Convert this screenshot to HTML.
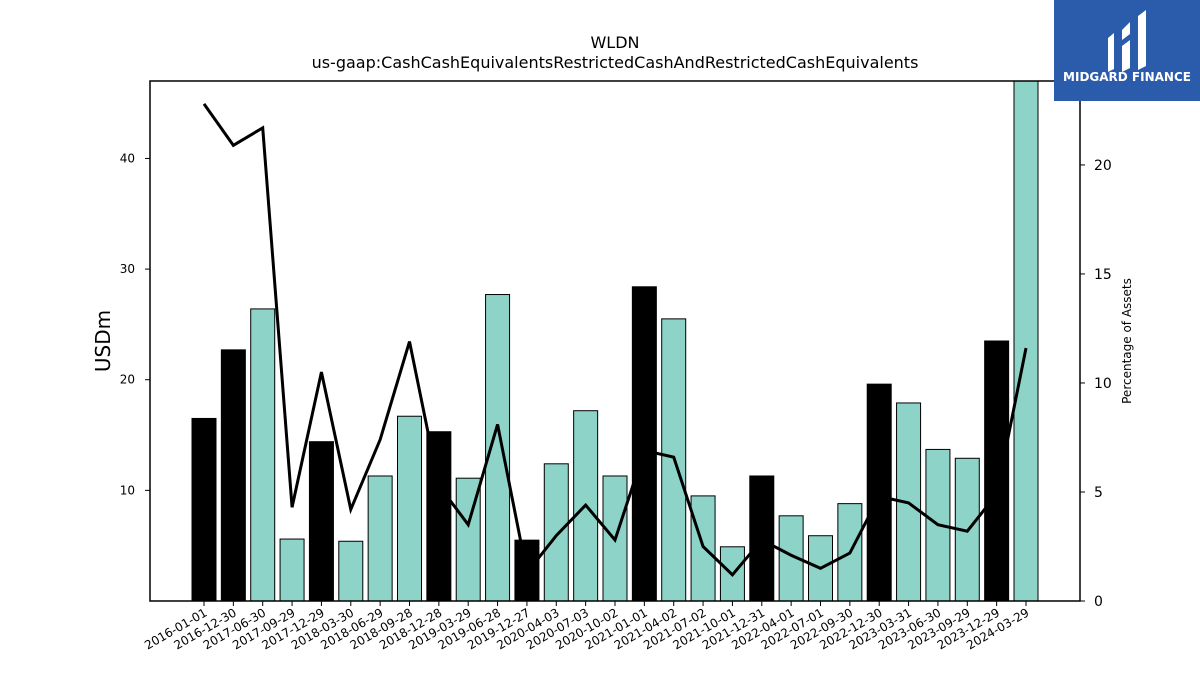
<!DOCTYPE html>
<html><head><meta charset="utf-8"><style>
body{margin:0;background:#fff;font-family:"Liberation Sans","DejaVu Sans",sans-serif}
</style></head><body>
<svg id="chart" width="1200" height="675" xmlns="http://www.w3.org/2000/svg" font-family="DejaVu Sans, Liberation Sans, sans-serif">
<text x="615" y="48" font-size="16" text-anchor="middle">WLDN</text>
<text x="615" y="68" font-size="16" text-anchor="middle">us-gaap:CashCashEquivalentsRestrictedCashAndRestrictedCashEquivalents</text>
<g id="bars"></g>
<g id="line"></g>
<rect x="150" y="81" width="930" height="520" fill="none" stroke="#000" stroke-width="1.5"/>
<g id="axes"></g>
<text transform="translate(110,341) rotate(-90)" font-size="20" text-anchor="middle">USDm</text>
<text transform="translate(1131,341) rotate(-90)" font-size="12" text-anchor="middle">Percentage of Assets</text>
<g>
<rect x="1054" y="0" width="146" height="101" fill="#2b5bab"/>
<path d="M1108 38 l6 -5 v36 l-6 3z M1122 30 l8 -8 v12 l-8 6z M1122 46 l8 -6 v28 l-8 4z M1138 16 l8 -6 v56 l-8 4z" fill="#fff"/>
<text x="1127" y="81" font-size="12" font-weight="bold" fill="#fff" text-anchor="middle">MIDGARD FINANCE</text>
</g>
</svg>
<script>
const categories=["2016-01-01","2016-12-30","2017-06-30","2017-09-29","2017-12-29","2018-03-30","2018-06-29","2018-09-28","2018-12-28","2019-03-29","2019-06-28","2019-12-27","2020-04-03","2020-07-03","2020-10-02","2021-01-01","2021-04-02","2021-07-02","2021-10-01","2021-12-31","2022-04-01","2022-07-01","2022-09-30","2022-12-30","2023-03-31","2023-06-30","2023-09-29","2023-12-29","2024-03-29"];
const cashValues=[16.5,22.7,26.4,5.6,14.4,5.4,11.3,16.7,15.3,11.1,27.7,5.5,12.4,17.2,11.3,28.4,25.5,9.5,4.9,11.3,7.7,5.9,8.8,19.6,17.9,13.7,12.9,23.5,48];
const isAnnual=[1,1,0,0,1,0,0,0,1,0,0,1,0,0,0,1,0,0,0,1,0,0,0,1,0,0,0,1,0];
const pctValues=[22.8,20.9,21.7,4.3,10.5,4.2,7.4,11.9,5.3,3.5,8.1,1.3,3.0,4.4,2.8,6.9,6.6,2.5,1.2,2.8,2.1,1.5,2.2,4.8,4.5,3.5,3.2,4.9,11.6];
const leftTicks=[10,20,30,40];
const rightTicks=[0,5,10,15,20];
const NS="http://www.w3.org/2000/svg";
const X0=150,X1=1080,Y0=601,Y1=81,LMAX=47,RMAX=23.85;
const step=(1026-204)/28;
function xs(i){return 204+i*step;}
function yl(v){return Y0-(v/LMAX)*(Y0-Y1);}
function yr(v){return Y0-(v/RMAX)*(Y0-Y1);}
function mk(t,a){const e=document.createElementNS(NS,t);for(const k in a)e.setAttribute(k,a[k]);return e;}
const bars=document.getElementById('bars'),line=document.getElementById('line'),axes=document.getElementById('axes');
categories.forEach((c,i)=>{
 const top=Math.max(yl(cashValues[i]),Y1);
 const r=mk('rect',{x:xs(i)-12,y:top,width:24,height:Y0-top,fill:isAnnual[i]?'#000':'#8dd3c7',stroke:'#000','stroke-width':1});
 
 
 bars.appendChild(r);
 const t=mk('line',{x1:xs(i),x2:xs(i),y1:Y0,y2:Y0+5,stroke:'#000'});
 
 
 axes.appendChild(t);
 const lb=mk('text',{transform:`translate(${xs(i)+4},${Y0+14}) rotate(-30)`,'font-size':12,'text-anchor':'end'});
 lb.textContent=c;
 
 
 axes.appendChild(lb);
});
const pts=pctValues.map((v,i)=>xs(i)+','+yr(v)).join(' ');
const pl=mk('polyline',{points:pts,fill:'none',stroke:'#000','stroke-width':3,'stroke-linejoin':'miter'});


line.appendChild(pl);
leftTicks.forEach(v=>{
 const t=mk('line',{x1:X0-5,x2:X0,y1:yl(v),y2:yl(v),stroke:'#000'});
 
 
 axes.appendChild(t);
 const l=mk('text',{x:X0-15,y:yl(v)+4,'font-size':12,'text-anchor':'end'});l.textContent=v;
 
 
 axes.appendChild(l);
});
rightTicks.forEach(v=>{
 const t=mk('line',{x1:X1,x2:X1+5,y1:yr(v),y2:yr(v),stroke:'#000'});
 
 
 axes.appendChild(t);
 const l=mk('text',{x:X1+14,y:yr(v)+5,'font-size':14});l.textContent=v;
 
 
 axes.appendChild(l);
});
</script>
</body></html>
